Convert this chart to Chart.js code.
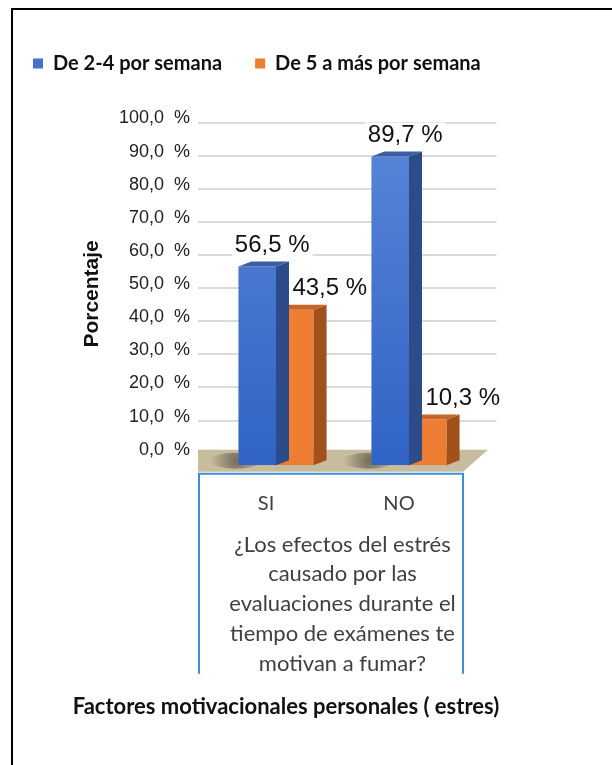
<!DOCTYPE html>
<html>
<head>
<meta charset="utf-8">
<script src="https://cdn.jsdelivr.net/npm/chart.js@4.4.1/dist/chart.umd.min.js"></script>
<style>
  html, body { margin: 0; padding: 0; background: #fff; }
  .frame { position: absolute; left: 11px; top: 8px; width: 700px; height: 800px; border-left: 2px solid #000; border-top: 2px solid #000; }
  #chart { position: absolute; left: 0; top: 0; }
</style>
</head>
<body>
<div class="frame"></div>
<canvas id="chart" width="572" height="765"></canvas>
<script>
// data
const categories = ['SI', 'NO'];
const seriesNames = ['De 2-4 por semana', 'De 5 a más por semana'];
const deDosACuatro = [56.5, 89.7];
const deCincoAMas = [43.5, 10.3];
const questionLines = [
  '¿Los efectos del estrés',
  'causado por las',
  'evaluaciones durante el',
  'tiempo de exámenes te',
  'motivan a fumar?'
];
const bottomTitle = 'Factores motivacionales personales ( estres)';
const yTitle = 'Porcentaje';
const yTicksMax = 100;
const yTicksStep = 10;

// styles
const legendColors = ['#4472c4', '#ed7d31'];
const sideColors = ['#2d4b88', '#a3511c'];
const topColors = ['#3b5da3', '#c8642a'];
const depth = { dx: 13, dy: 5 };
const floorDrop = -3.5; // bars reach down to the front edge of the floor

const fmt = v => v.toFixed(1).replace('.', ',');

function blueFill(context) {
  const { ctx, chartArea } = context.chart;
  if (!chartArea) return legendColors[0];
  const g = ctx.createLinearGradient(0, chartArea.top, 0, chartArea.bottom);
  g.addColorStop(0, '#5b86d8');
  g.addColorStop(1, '#3063c6');
  return g;
}

// gridlines reaching into the 3D back wall, plus the floor
const floorPlugin = {
  id: 'floor',
  beforeDatasetsDraw(chart) {
    const { ctx, chartArea: a, scales: { x, y } } = chart;
    ctx.save();
    ctx.strokeStyle = '#dadada';
    ctx.lineWidth = 2;
    y.ticks.forEach(t => {
      if (t.value <= 0) return;
      const py = Math.round(y.getPixelForValue(t.value));
      ctx.beginPath();
      ctx.moveTo(a.left - 11.5, py);
      ctx.lineTo(a.right + 21, py);
      ctx.stroke();
    });
    const y0 = y.getPixelForValue(0);
    ctx.fillStyle = '#c7bc9d';
    ctx.beginPath();
    ctx.moveTo(a.left - 11.5, y0 - 4);
    ctx.lineTo(a.right + 12.5, y0 - 4);
    ctx.lineTo(a.right - 12.5, y0 + 18);
    ctx.lineTo(a.left - 11.5, y0 + 18);
    ctx.closePath();
    ctx.fill();
    // soft shadow at the foot of each bar group
    categories.forEach((c, i) => {
      const cx = x.getPixelForValue(i) - 40;
      const cy = y0 + 7;
      const g = ctx.createRadialGradient(cx, cy, 0, cx, cy, 26);
      g.addColorStop(0, 'rgba(50,42,30,0.55)');
      g.addColorStop(1, 'rgba(50,42,30,0)');
      ctx.fillStyle = g;
      ctx.beginPath();
      ctx.ellipse(cx, cy, 26, 8, 0, 0, Math.PI * 2);
      ctx.fill();
    });
    ctx.restore();
  }
};

// side and top faces, drawn right after each dataset so the next one overlaps
const bar3dPlugin = {
  id: 'bar3d',
  afterDatasetDraw(chart, args) {
    const { ctx } = chart;
    const i = args.index;
    ctx.save();
    args.meta.data.forEach(bar => {
      const { x, y, base, width } = bar.getProps(['x', 'y', 'base', 'width'], true);
      const l = x - width / 2, r = x + width / 2;
      ctx.fillStyle = sideColors[i];
      ctx.beginPath();
      ctx.moveTo(r, y);
      ctx.lineTo(r + depth.dx, y - depth.dy);
      ctx.lineTo(r + depth.dx, base - depth.dy);
      ctx.lineTo(r, base);
      ctx.closePath();
      ctx.fill();
      ctx.fillStyle = topColors[i];
      ctx.beginPath();
      ctx.moveTo(l, y);
      ctx.lineTo(l + depth.dx, y - depth.dy);
      ctx.lineTo(r + depth.dx, y - depth.dy);
      ctx.lineTo(r, y);
      ctx.closePath();
      ctx.fill();
    });
    ctx.restore();
  }
};

// value labels and the blue frame around the category text
const labelsPlugin = {
  id: 'valueLabels',
  afterDatasetsDraw(chart) {
    const { ctx, chartArea: a, scales: { x, y } } = chart;
    ctx.save();
    ctx.font = '24px "Liberation Sans", Arial, sans-serif';
    ctx.textAlign = 'center';
    ctx.textBaseline = 'middle';
    const shift = [15, 35];
    chart.data.datasets.forEach((ds, di) => {
      chart.getDatasetMeta(di).data.forEach((bar, j) => {
        const txt = fmt(ds.data[j]) + ' %';
        const cx = bar.x + shift[di];
        const cy = bar.y - 21;
        const w = ctx.measureText(txt).width;
        ctx.fillStyle = '#fff';
        ctx.fillRect(cx - w / 2 - 3, cy - 13, w + 6, 26);
        ctx.fillStyle = '#111';
        ctx.fillText(txt, cx, cy);
      });
    });

    const y0 = y.getPixelForValue(0);
    const left = a.left - 10.5, right = a.right - 12.5;
    const top = y0 + 20, bottom = x.bottom - 20;
    ctx.strokeStyle = '#3d8fdc';
    ctx.lineWidth = 2;
    ctx.beginPath();
    ctx.moveTo(left, bottom);
    ctx.lineTo(left, top);
    ctx.lineTo(right, top);
    ctx.lineTo(right, bottom);
    ctx.stroke();
    ctx.restore();
  }
};

new Chart(document.getElementById('chart'), {
  type: 'bar',
  data: {
    labels: categories,
    datasets: [
      { label: seriesNames[0], data: deDosACuatro, backgroundColor: blueFill, base: floorDrop },
      { label: seriesNames[1], data: deCincoAMas, backgroundColor: legendColors[1], base: floorDrop }
    ]
  },
  options: {
    responsive: false,
    animation: false,
    layout: { padding: { top: 20.5, left: 0, right: 0, bottom: 0 } },
    datasets: { bar: { categoryPercentage: 0.565, barPercentage: 1 } },
    plugins: {
      legend: {
        position: 'top',
        align: 'start',
        labels: {
          boxWidth: 10,
          boxHeight: 10,
          padding: 33,
          color: '#111',
          font: { family: 'Lato', size: 20, weight: 'bold' },
          generateLabels(chart) {
            const items = Chart.defaults.plugins.legend.labels.generateLabels(chart);
            items.forEach((it, i) => { it.fillStyle = legendColors[i]; it.strokeStyle = legendColors[i]; it.lineWidth = 0; });
            return items;
          }
        }
      },
      subtitle: {
        display: true,
        text: ' ',
        position: 'top',
        weight: 500,
        font: { size: 10 },
        padding: { top: 0, bottom: 27 }
      },
      title: {
        display: true,
        text: bottomTitle,
        position: 'bottom',
        color: '#111',
        font: { family: 'Lato', size: 22, weight: 'bold' },
        padding: { top: 0, bottom: 44.8 }
      },
      tooltip: { enabled: false }
    },
    scales: {
      x: {
        grid: { display: false, drawTicks: false },
        border: { display: false },
        ticks: {
          color: '#404040',
          font: { family: 'Lato', size: 20 },
          padding: 26.5,
          labelOffset: -10,
          autoSkip: false,
          maxRotation: 0
        },
        title: {
          display: true,
          text: questionLines,
          color: '#404040',
          font: { family: 'Lato', size: 22, lineHeight: 1.36 },
          padding: { top: 0, bottom: 14.7 }
        },
        afterFit(scale) { scale.height = 228.5; }
      },
      y: {
        min: floorDrop,
        max: yTicksMax,
        grid: { display: false, drawTicks: false },
        border: { display: false },
        ticks: {
          color: '#222',
          padding: 19.5,
          labelOffset: -4,
          font: { family: '"Liberation Sans", Arial, sans-serif', size: 18 },
          callback: v => fmt(v) + '  %'
        },
        afterBuildTicks(scale) {
          const ticks = [];
          for (let v = 0; v <= yTicksMax; v += yTicksStep) ticks.push({ value: v });
          scale.ticks = ticks;
        },
        title: {
          display: true,
          text: yTitle,
          color: '#111',
          font: { family: '"Liberation Sans", Arial, sans-serif', size: 21, weight: 'bold' },
          padding: { top: 79.4, bottom: 0 }
        },
        afterFit(scale) { scale.width = 209.5; }
      },
      spacer: {
        type: 'linear',
        position: 'right',
        display: true,
        grid: { display: false },
        border: { display: false },
        ticks: { display: false },
        afterFit(scale) { scale.width = 96.5; }
      }
    }
  },
  plugins: [floorPlugin, bar3dPlugin, labelsPlugin]
});
</script>
</body>
</html>
